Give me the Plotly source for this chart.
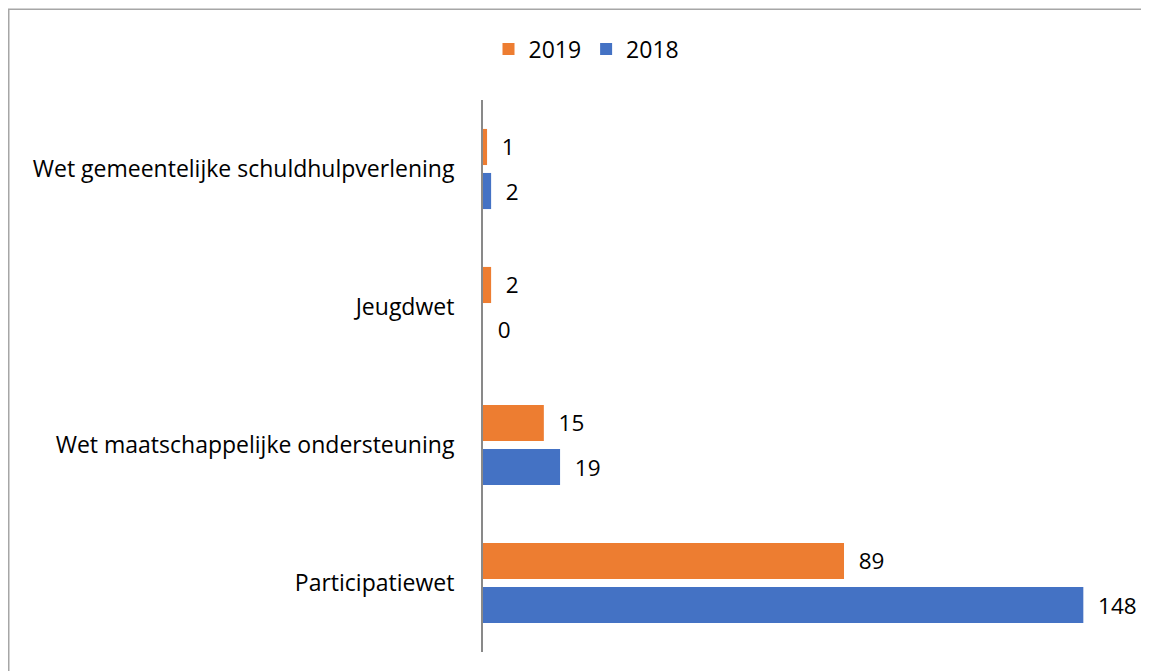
import plotly.graph_objects as go

categories = ["Participatiewet", "Wet maatschappelijke ondersteuning", "Jeugdwet",
              "Wet gemeentelijke schuldhulpverlening"]
values_2018 = [148, 19, 0, 2]
values_2019 = [89, 15, 2, 1]

ORANGE = "#ED7D31"
BLUE = "#4472C4"
FONT = "Open Sans"
FS = 23
PAD = "\u00a0\u00a0"

# page has an 8px body margin; figure occupies page (8,8)-(1149,671)
W, H = 1141, 663
L, R, T, B = 475, 17, 92, 19
pw, ph = W - L - R, H - T - B

def px_to_paper_x(px):
    return (px - L) / pw

def px_to_paper_y(py):
    return (H - B - py) / ph

fig = go.Figure()
fig.add_trace(go.Bar(
    y=categories, x=values_2018, name="2018", orientation="h",
    marker=dict(color=BLUE, line=dict(width=0)),
    text=values_2018, texttemplate=PAD + "%{x}", textposition="outside",
    textfont=dict(family=FONT, size=22.5, color="#000000"), cliponaxis=False,
))
fig.add_trace(go.Bar(
    y=categories, x=values_2019, name="2019", orientation="h",
    marker=dict(color=ORANGE, line=dict(width=0)),
    text=values_2019, texttemplate=PAD + "%{x}", textposition="outside",
    textfont=dict(family=FONT, size=22.5, color="#000000"), cliponaxis=False,
))

fig.update_layout(
    width=W, height=H,
    margin=dict(l=L, r=R, t=T, b=B),
    paper_bgcolor="white", plot_bgcolor="white",
    barmode="group", bargap=0.362, bargroupgap=0.18,
    font=dict(family=FONT, size=FS, color="#000000"),
    showlegend=True,
    legend=dict(orientation="h", traceorder="reversed",
                x=px_to_paper_x(578.5), xanchor="center",
                y=px_to_paper_y(41), yanchor="middle",
                font=dict(family=FONT, size=FS, color="#000000"),
                itemwidth=30, bgcolor="rgba(0,0,0,0)"),
    xaxis=dict(range=[0, 160], visible=False, showgrid=False, zeroline=False,
               fixedrange=True),
    yaxis=dict(categoryorder="array", categoryarray=categories,
               showline=True, linecolor="#898989", linewidth=2,
               ticks="", showgrid=False, zeroline=False,
               ticklabelstandoff=22,
               tickfont=dict(family=FONT, size=FS, color="#000000")),
)

fig.add_shape(type="rect", xref="paper", yref="paper",
              x0=px_to_paper_x(0.75), x1=px_to_paper_x(1160),
              y0=px_to_paper_y(690), y1=px_to_paper_y(1.25),
              line=dict(color="#A6A6A6", width=1.5), fillcolor="rgba(0,0,0,0)",
              layer="below")

fig.write_html("out.html")
